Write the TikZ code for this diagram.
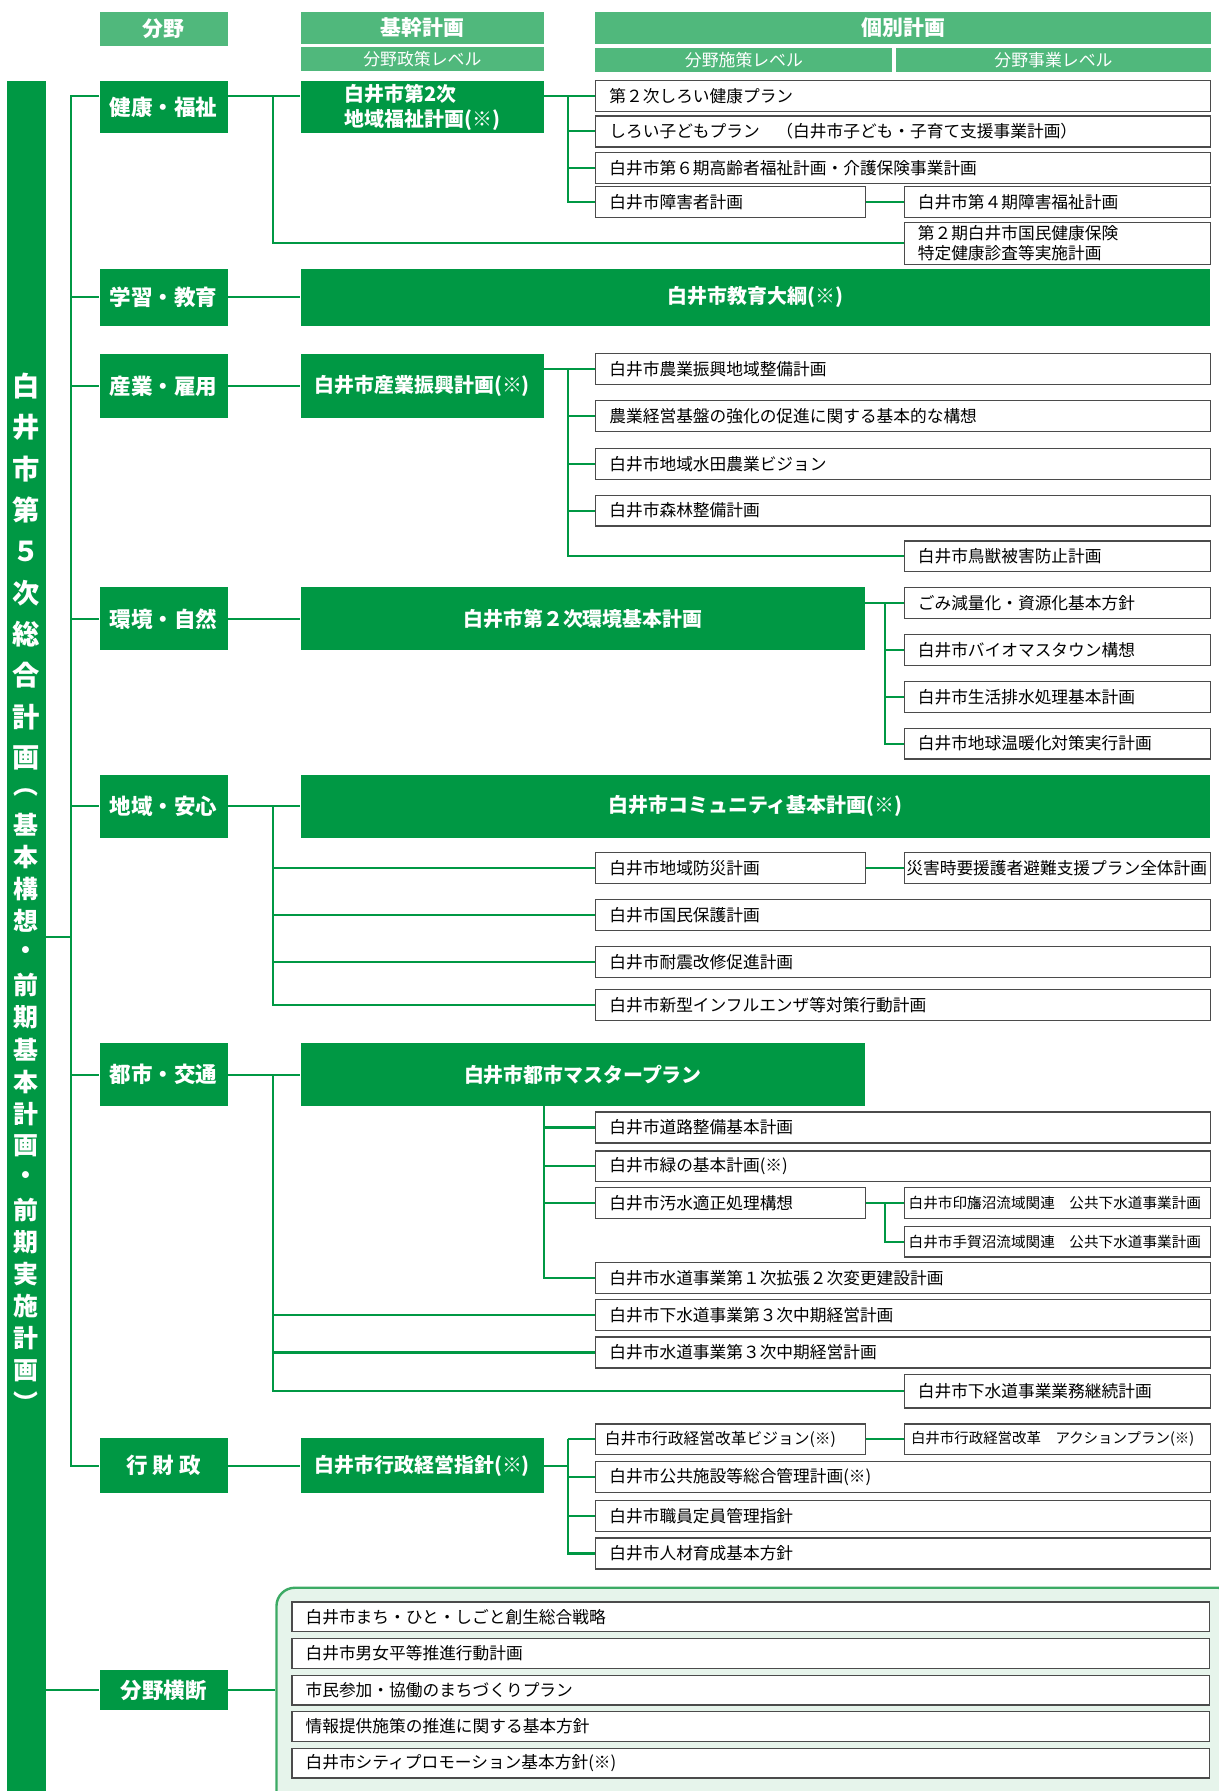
\documentclass[tikz,border=0pt]{standalone}
\usepackage{fontspec}
\setmainfont{Noto Sans CJK JP}
\definecolor{dgreen}{RGB}{0,152,68}
\definecolor{hgreen}{RGB}{80,184,124}
\definecolor{boxgray}{RGB}{75,75,75}
\definecolor{panelfill}{RGB}{230,244,235}
\definecolor{panelline}{RGB}{60,170,100}

\begin{document}
\begin{tikzpicture}[
 x=0.025cm, y=-0.025cm,
 hdbox/.style={fill=hgreen, text=white, anchor=north west, inner sep=0pt, font=\bfseries\fontsize{13}{15}\selectfont},
 subhd/.style={fill=hgreen, text=white, anchor=north west, inner sep=0pt, minimum height=0.525cm, font=\fontsize{10.5}{12}\selectfont},
 field/.style={fill=dgreen, text=white, anchor=north west, inner sep=0pt, minimum width=2.8cm, font=\bfseries\fontsize{13.4}{16}\selectfont},
 mainplan/.style={fill=dgreen, text=white, anchor=north west, inner sep=0pt, font=\bfseries\fontsize{12.4}{15.5}\selectfont},
 plan/.style={draw=boxgray, line width=0.8pt, fill=white, anchor=north west, minimum height=0.675cm, inner xsep=0.3cm, inner ysep=0pt, text width=#1, align=left, font=\fontsize{10.4}{12.6}\selectfont},
 planwide/.style={plan=12.85cm},
 planhalf/.style={plan=5.3cm},
 planright/.style={plan=6.1cm},
 vtitle/.style={text=white, inner sep=0pt, font=\bfseries\fontsize{17}{17}\selectfont},
 vsub/.style={text=white, inner sep=0pt, font=\bfseries\fontsize{15.5}{15.5}\selectfont},
 conn/.style={draw=dgreen, line width=1.3pt}
]
\path[use as bounding box, fill=white] (0,0) rectangle (1067,1568);

% 見出し
\node[hdbox, minimum width=2.8cm, minimum height=0.75cm] (hfield) at (87,10) {分野};
\node[hdbox, minimum width=5.325cm, minimum height=0.7cm] (hbase) at (263,10) {基幹計画};
\node[subhd, minimum width=5.325cm] (hbasesub) at (263,41) {分野政策レベル};
\node[hdbox, minimum width=13.475cm, minimum height=0.7cm] (hindiv) at (521,10) {個別計画};
\node[subhd, minimum width=6.5cm] (hmeasure) at (521,42) {分野施策レベル};
\node[subhd, minimum width=6.9cm] (hproject) at (784,42) {分野事業レベル};

% 総合計画の帯
\node[fill=dgreen, anchor=north west, minimum width=0.85cm, minimum height=37.425cm, inner sep=0pt] (bar) at (6,71) {};
\foreach \ch [count=\i from 0] in {白,井,市,第,５,次,総,合,計,画}
  \node[vtitle] (t\i) at (23,338+36.2*\i) {\ch};
\foreach \ch [count=\i from 0] in {︵,基,本,構,想,・,前,期,基,本,計,画,・,前,期,実,施,計,画,︶}
  \node[vsub] (v\i) at (23,694+28.1*\i) {\ch};

% 分野
\node[field, minimum height=1.125cm] (kf) at (87,71) {健康・福祉};
\node[field, minimum height=1.25cm] (gk) at (87,235) {学習・教育};
\node[field, minimum height=1.4cm] (sk) at (87,310) {産業・雇用};
\node[field, minimum height=1.375cm] (ks) at (87,514) {環境・自然};
\node[field, minimum height=1.375cm] (ca) at (87,678) {地域・安心};
\node[field, minimum height=1.375cm] (tk) at (87,913) {都市・交通};
\node[field, minimum height=1.2cm] (gz) at (87,1259) {行\hspace{0.25em}財\hspace{0.25em}政};
\node[field, minimum height=0.875cm] (bo) at (87,1462) {分野横断};

% 基幹計画
\node[mainplan, minimum width=5.325cm, minimum height=1.125cm, align=left] (kfm) at (263,71) {白井市第2次\\地域福祉計画(※)};
\node[mainplan, minimum width=19.9cm, minimum height=1.25cm] (gkm) at (263,235) {白井市教育大綱(※)};
\node[mainplan, minimum width=5.325cm, minimum height=1.4cm] (skm) at (263,310) {白井市産業振興計画(※)};
\node[mainplan, minimum width=12.35cm, minimum height=1.375cm] (ksm) at (263,514) {白井市第２次環境基本計画};
\node[mainplan, minimum width=19.9cm, minimum height=1.375cm] (cam) at (263,678) {白井市コミュニティ基本計画(※)};
\node[mainplan, minimum width=12.35cm, minimum height=1.375cm] (tkm) at (263,913) {白井市都市マスタープラン};
\node[mainplan, minimum width=5.325cm, minimum height=1.2cm] (gzm) at (263,1259) {白井市行政経営指針(※)};

% 健康・福祉
\node[planwide] (h1) at (521,70) {第２次しろい健康プラン};
\node[planwide] (h2) at (521,101) {しろい子どもプラン　（白井市子ども・子育て支援事業計画）};
\node[planwide] (h3) at (521,133) {白井市第６期高齢者福祉計画・介護保険事業計画};
\node[planhalf] (h4) at (521,163) {白井市障害者計画};
\node[planright] (h4b) at (791,163) {白井市第４期障害福祉計画};
\node[planright, minimum height=0.925cm] (h5) at (791,194) {第２期白井市国民健康保険\\特定健康診査等実施計画};

% 産業・雇用
\node[planwide] (s1) at (521,309) {白井市農業振興地域整備計画};
\node[planwide] (s2) at (521,350) {農業経営基盤の強化の促進に関する基本的な構想};
\node[planwide] (s3) at (521,392) {白井市地域水田農業ビジョン};
\node[planwide] (s4) at (521,433) {白井市森林整備計画};
\node[planright] (s5) at (791,473) {白井市鳥獣被害防止計画};

% 環境・自然
\node[planright] (e1) at (791,514) {ごみ減量化・資源化基本方針};
\node[planright] (e2) at (791,555) {白井市バイオマスタウン構想};
\node[planright] (e3) at (791,596) {白井市生活排水処理基本計画};
\node[planright] (e4) at (791,637) {白井市地球温暖化対策実行計画};

% 地域・安心
\node[planhalf] (c1) at (521,746) {白井市地域防災計画};
\node[plan=6.6cm, inner xsep=0.05cm] (c1b) at (791,746) {災害時要援護者避難支援プラン全体計画};
\node[planwide] (c2) at (521,787) {白井市国民保護計画};
\node[planwide] (c3) at (521,828) {白井市耐震改修促進計画};
\node[planwide] (c4) at (521,866) {白井市新型インフルエンザ等対策行動計画};

% 都市・交通
\node[planwide] (u1) at (521,973) {白井市道路整備基本計画};
\node[planwide] (u2) at (521,1007) {白井市緑の基本計画(※)};
\node[planhalf] (u3) at (521,1039) {白井市汚水適正処理構想};
\node[plan=6.5cm, inner xsep=0.1cm, font=\fontsize{9.1}{11}\selectfont] (u4) at (791,1039) {白井市印旛沼流域関連　公共下水道事業計画};
\node[plan=6.5cm, inner xsep=0.1cm, font=\fontsize{9.1}{11}\selectfont] (u5) at (791,1073) {白井市手賀沼流域関連　公共下水道事業計画};
\node[planwide] (u6) at (521,1105) {白井市水道事業第１次拡張２次変更建設計画};
\node[planwide] (u7) at (521,1137) {白井市下水道事業第３次中期経営計画};
\node[planwide] (u8) at (521,1170) {白井市水道事業第３次中期経営計画};
\node[planright, minimum height=0.725cm] (u9) at (791,1203) {白井市下水道事業業務継続計画};

% 行財政
\node[plan=5.5cm, inner xsep=0.2cm, font=\fontsize{9.8}{11}\selectfont] (a1) at (521,1246) {白井市行政経営改革ビジョン(※)};
\node[plan=6.4cm, inner xsep=0.15cm, font=\fontsize{9}{10}\selectfont] (a1b) at (791,1246) {白井市行政経営改革　アクションプラン(※)};
\node[planwide] (a2) at (521,1279) {白井市公共施設等総合管理計画(※)};
\node[planwide] (a3) at (521,1313) {白井市職員定員管理指針};
\node[planwide] (a4) at (521,1346) {白井市人材育成基本方針};

% 分野横断
\node[draw=panelline, fill=panelfill, line width=1.5pt, rounded corners=0.4cm, anchor=north west, minimum width=21cm, minimum height=5.5cm] (panel) at (241,1389) {};
\node[plan=19.475cm, minimum height=0.65cm] (x1) at (255,1402) {白井市まち・ひと・しごと創生総合戦略};
\node[plan=19.475cm, minimum height=0.65cm] (x2) at (255,1434) {白井市男女平等推進行動計画};
\node[plan=19.475cm, minimum height=0.65cm] (x3) at (255,1466) {市民参加・協働のまちづくりプラン};
\node[plan=19.475cm, minimum height=0.65cm] (x4) at (255,1498) {情報提供施策の推進に関する基本方針};
\node[plan=19.475cm, minimum height=0.65cm] (x5) at (255,1530) {白井市シティプロモーション基本方針(※)};

% 接続線
\coordinate (trunk) at (62,0);
\coordinate (jA) at (239,0);
\coordinate (jB) at (497,0);
\coordinate (jC) at (775,0);
\coordinate (jD) at (476,0);

\draw[conn] (bar.east) -- (trunk |- bar.east);
\draw[conn] (kf.west |- h1.west) -| (trunk |- gz.west) -- (gz.west);
\foreach \f in {gk,sk,ks,ca,tk}
  \draw[conn] (trunk |- \f.west) -- (\f.west);

\draw[conn] (kf.east |- h1.west) -- (kfm.west |- h1.west);
\draw[conn] (jA |- h1.west) |- (h5.west);
\draw[conn] (kfm.east |- h1.west) -- (h1.west);
\draw[conn] (jB |- h1.west) |- (h4.west);
\foreach \p in {h2,h3}
  \draw[conn] (jB |- \p.west) -- (\p.west);
\draw[conn] (h4) -- (h4b);

\draw[conn] (gk) -- (gkm);

\draw[conn] (sk) -- (skm);
\draw[conn] (skm.east |- s1.west) -- (s1.west);
\draw[conn] (jB |- s1.west) |- (s5.west);
\foreach \p in {s2,s3,s4}
  \draw[conn] (jB |- \p.west) -- (\p.west);

\draw[conn] (ks) -- (ksm);
\draw[conn] (ksm.east |- e1.west) -- (e1.west);
\draw[conn] (jC |- e1.west) |- (e4.west);
\foreach \p in {e2,e3}
  \draw[conn] (jC |- \p.west) -- (\p.west);

\draw[conn] (ca) -- (cam);
\draw[conn] (jA |- cam.west) |- (c4.west);
\foreach \p in {c1,c2,c3}
  \draw[conn] (jA |- \p.west) -- (\p.west);
\draw[conn] (c1) -- (c1b);

\draw[conn] (tk) -- (tkm);
\draw[conn] (jA |- tkm.west) |- (u9.west);
\foreach \p in {u7,u8}
  \draw[conn] (jA |- \p.west) -- (\p.west);
\draw[conn] (jD |- tkm.south) |- (u6.west);
\foreach \p in {u1,u2,u3}
  \draw[conn] (jD |- \p.west) -- (\p.west);
\draw[conn] (u3) -- (u4);
\draw[conn] (jC |- u4.west) |- (u5.west);

\draw[conn] (gz) -- (gzm);
\draw[conn] (gzm) -- (jB |- gzm.east);
\draw[conn] (jB |- a1.west) |- (a4.west);
\foreach \p in {a1,a2,a3}
  \draw[conn] (jB |- \p.west) -- (\p.west);
\draw[conn] (a1) -- (a1b);

\draw[conn] (bar.east |- bo.west) -- (bo.west);
\draw[conn] (bo.east) -- (bo.east -| panel.west);

\end{tikzpicture}
\end{document}
